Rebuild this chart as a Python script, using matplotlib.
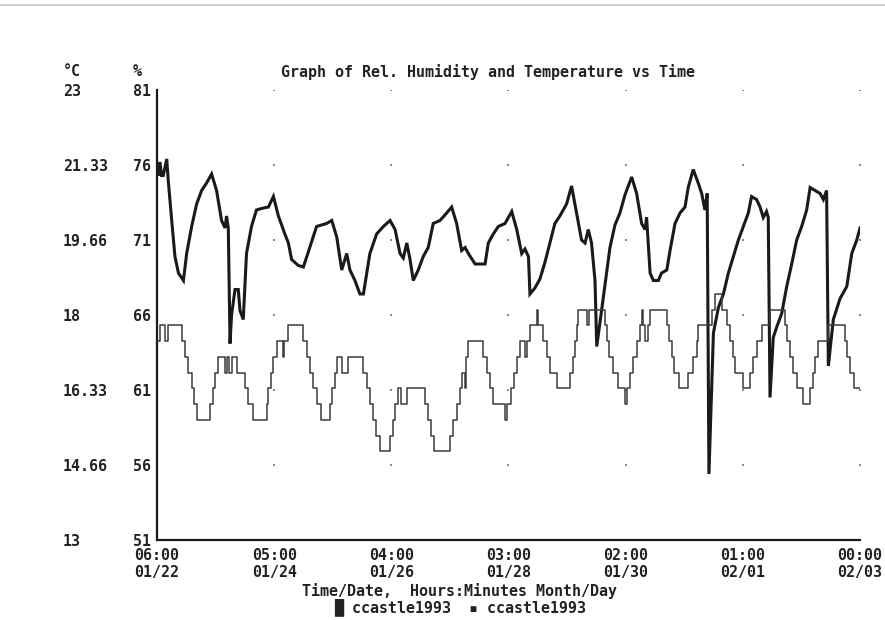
import matplotlib
matplotlib.use("Agg")
import matplotlib.pyplot as plt
from matplotlib.lines import Line2D
import numpy as np

# time axis: hours since 06:00 01/22, one tick every 47 h
tick_hours = [0, 47, 94, 141, 188, 235, 282]
tick_labels = ["06:00\n01/22", "05:00\n01/24", "04:00\n01/26", "03:00\n01/28",
               "02:00\n01/30", "01:00\n02/01", "00:00\n02/03"]

rh_ticks = [51, 56, 61, 66, 71, 76, 81]
temp_ticks = [13, 14.66, 16.33, 18, 19.66, 21.33, 23]
temp_tick_labels = ["13", "14.66", "16.33", "18", "19.66", "21.33", "23"]

# relative humidity (%) - thick trace
rh_hours = [0.0, 0.5, 1.2, 1.8, 2.5, 3.9, 4.5, 5.9, 7.2, 8.6, 10.6, 11.9, 13.9, 15.9,
            17.9, 19.9, 21.9, 23.9, 25.9, 27.3, 27.9, 28.6, 29.3, 29.9, 31.3, 32.6,
            33.3, 34.6, 35.9, 37.9, 39.9, 41.9, 44.7, 46.7, 48.7, 51.3, 52.7, 54.0,
            56.7, 58.7, 60.7, 64.0, 68.0, 70.1, 72.1, 74.1, 76.1, 77.4, 79.4, 81.4,
            82.8, 85.4, 88.1, 90.8, 93.5, 95.5, 97.5, 98.8, 100.2, 101.5, 102.8,
            104.8, 106.8, 108.8, 110.8, 113.5, 116.2, 118.2, 120.2, 122.2, 123.6,
            124.9, 127.6, 131.6, 132.9, 134.9, 136.9, 139.6, 142.3, 144.3, 146.3,
            147.6, 149.0, 149.6, 151.6, 153.6, 155.6, 157.6, 159.6, 161.6, 164.3,
            166.3, 168.3, 170.3, 171.7, 173.0, 174.3, 175.7, 176.4, 177.7, 179.7,
            181.7, 183.7, 185.7, 187.7, 190.4, 192.4, 194.4, 195.8, 196.4, 197.8,
            199.1, 201.1, 202.4, 204.5, 205.8, 207.8, 209.8, 211.8, 213.1, 215.1,
            217.1, 218.5, 219.8, 220.7, 221.4, 223.2, 225.2, 227.2, 229.2, 231.2,
            233.2, 235.2, 237.2, 238.5, 240.5, 241.9, 243.2, 244.5, 245.2, 245.9,
            247.2, 248.6, 250.6, 252.6, 254.6, 256.6, 258.6, 260.6, 262.0, 264.0,
            266.0, 267.3, 268.6, 269.3, 271.3, 274.0, 276.7, 278.7, 280.7, 282.0]
rh_values = [76.1, 75.3, 76.2, 75.3, 75.3, 76.4, 75.0, 72.3, 69.9, 68.8, 68.3, 70.1, 71.9, 73.4,
             74.3, 74.8, 75.4, 74.3, 72.3, 71.8, 72.6, 71.8, 64.1, 66.0, 67.7, 67.7,
             66.3, 65.7, 70.1, 71.9, 73.0, 73.1, 73.2, 73.9, 72.6, 71.4, 70.8, 69.7,
             69.3, 69.2, 70.2, 71.9, 72.1, 72.3, 71.2, 69.0, 70.1, 69.0, 68.3, 67.4,
             67.4, 70.1, 71.4, 71.9, 72.3, 71.7, 70.1, 69.8, 70.8, 69.7, 68.3,
             69.0, 69.9, 70.5, 72.1, 72.3, 72.8, 73.2, 72.1, 70.3, 70.5,
             70.1, 69.4, 69.4, 70.8, 71.4, 71.9, 72.1, 72.9, 71.7, 70.1,
             70.4, 69.9, 67.4, 67.8, 68.4, 69.5, 70.8, 72.1, 72.6, 73.4,
             74.6, 72.8, 71.0, 70.8, 71.7, 70.8, 68.3, 63.9, 65.5, 68.0,
             70.5, 72.0, 72.8, 74.0, 75.2, 74.1, 72.1, 71.7, 72.5, 68.8,
             68.3, 68.3, 68.8, 69.0, 70.3, 72.1, 72.8, 73.2, 74.5, 75.7,
             74.8, 74.1, 73.0, 74.1, 55.4, 64.8, 66.5, 67.4, 68.8, 69.9,
             71.0, 71.9, 72.8, 73.9, 73.7, 73.2, 72.5, 72.9, 72.5, 60.5,
             64.5, 65.2, 66.1, 67.9, 69.4, 71.0, 71.9, 73.0, 74.5, 74.3,
             74.1, 73.7, 74.3, 62.6, 65.7, 67.1, 67.9, 70.1, 71.0, 71.8]

# temperature (deg C) - thin stepped trace, value holds until next time
temp_hours = [0.0, 1.2, 3.2, 4.5, 9.9, 11.2, 12.6, 13.9, 15.0, 16.0, 21.3, 22.6, 23.3,
              24.6, 27.3, 28.0, 29.0, 30.0, 32.0, 35.3, 36.6, 38.6, 44.0, 44.6, 45.7,
              46.6, 48.0, 50.5, 51.0, 52.7, 58.7, 60.0, 61.4, 62.7, 64.1, 65.7, 69.4,
              70.1, 71.4, 72.1, 74.1, 76.7, 82.8, 84.1, 85.4, 86.7, 88.0, 89.5, 93.5,
              94.5, 95.5, 96.5, 97.8, 100.1, 107.5, 108.8, 110.0, 111.2, 117.5, 118.9,
              120.2, 121.5, 122.2, 123.5, 124.0, 124.9, 130.9, 132.2, 133.6, 134.9,
              139.6, 140.3, 142.2, 143.3, 144.5, 145.6, 147.5, 148.3, 149.6, 152.3,
              152.8, 154.9, 156.3, 157.6, 160.5, 165.7, 167.0, 167.7, 168.3, 169.0,
              172.3, 173.2, 179.7, 180.4, 181.5, 183.0, 185.0, 187.7, 188.4, 189.7,
              191.1, 192.4, 193.7, 194.4, 194.9, 195.8, 197.1, 197.8, 204.4, 205.5,
              206.5, 207.5, 209.5, 213.1, 215.1, 216.5, 217.1, 222.5, 223.8, 226.5,
              228.5, 230.0, 231.0, 232.0, 235.2, 237.9, 239.2, 240.6, 242.6, 245.9,
              251.9, 252.6, 253.9, 255.3, 256.6, 259.3, 262.0, 263.3, 264.0, 265.3,
              269.3, 276.0, 276.7, 278.0, 279.4, 282.0]
temp_values = [17.42, 17.77, 17.42, 17.77, 17.42, 17.07, 16.72, 16.37, 16.02, 15.67, 16.02, 16.37, 16.72,
               17.07, 16.72, 17.07, 16.72, 17.07, 16.72, 16.37, 16.02, 15.67, 16.02, 16.37, 16.72,
               17.07, 17.42, 17.07, 17.42, 17.77, 17.42, 17.07, 16.72, 16.37, 16.02, 15.67, 16.02,
               16.37, 16.72, 17.07, 16.72, 17.07, 16.72, 16.37, 16.02, 15.67, 15.32, 14.97, 15.32,
               15.67, 16.02, 16.37, 16.02, 16.37, 16.02, 15.67, 15.32, 14.97, 15.32, 15.67,
               16.02, 16.37, 16.72, 16.37, 17.07, 17.42, 17.07, 16.72, 16.37, 16.02,
               15.67, 16.02, 16.37, 16.72, 17.07, 17.42, 17.07, 17.42, 17.77, 18.12,
               17.77, 17.42, 17.07, 16.72, 16.37, 16.72, 17.07, 17.42, 17.77, 18.12,
               17.77, 18.12, 17.77, 17.42, 17.07, 16.72, 16.37, 16.02, 16.37, 16.72,
               17.07, 17.42, 17.77, 18.12, 17.77, 17.42, 17.77, 18.12, 17.77, 17.42,
               17.07, 16.72, 16.37, 16.72, 17.07, 17.42, 17.77, 18.12, 18.47, 18.12,
               17.77, 17.42, 17.07, 16.72, 16.37, 16.72, 17.07, 17.42, 17.77, 18.12,
               17.77, 17.42, 17.07, 16.72, 16.37, 16.02, 16.37, 16.72, 17.07, 17.42,
               17.77, 17.42, 17.07, 16.72, 16.37, 16.37]

series_name = "ccastle1993"

W, H = 885, 620
ink = "#1a1a1a"
font = dict(family="DejaVu Sans Mono", weight="bold", size=10.8, color="#222222")

fig = plt.figure(figsize=(W / 100, H / 100), dpi=100)
fig.patch.set_facecolor("white")

# faint screenshot border along the top
fig.add_artist(Line2D([0, 1], [1 - 5 / H, 1 - 5 / H], transform=fig.transFigure,
                      color="#c8c8c8", lw=1.2))

ax = fig.add_axes([157 / W, 1 - 540 / H, 703 / W, 450 / H])
ax_t = ax.twinx()

# humidity on the main axis
ax.plot(rh_hours, rh_values, color=ink, lw=2.2, solid_joinstyle="miter", zorder=3)
ax.set_xlim(0, 282)
ax.set_ylim(51, 81)

# temperature on the twin axis, scaled 13..23
ax_t.plot(temp_hours, temp_values, color="#3a3a3a", lw=1.1, drawstyle="steps-post", zorder=2)
ax_t.set_ylim(13, 23)

# dotted grid: only a dot where tick lines would cross
gx, gy = np.meshgrid(tick_hours[1:], rh_ticks[1:])
ax.scatter(gx.ravel(), gy.ravel(), s=2.5, color="#8a8a8a", marker="s", lw=0, zorder=1)

ax.set_xticks(tick_hours)
ax.set_xticklabels(tick_labels, **font, linespacing=1.15)
ax.tick_params(axis="x", length=0, pad=6)

ax.set_yticks(rh_ticks)
ax.set_yticklabels([str(v) for v in rh_ticks], **font)
ax.tick_params(axis="y", length=0, pad=24 * 0.72)
plt.setp(ax.get_yticklabels(), ha="left")

ax_t.yaxis.set_ticks_position("left")
ax_t.set_yticks(temp_ticks)
ax_t.set_yticklabels(temp_tick_labels, **font)
ax_t.tick_params(axis="y", length=0, pad=94 * 0.72)
plt.setp(ax_t.get_yticklabels(), ha="left")

for a in (ax, ax_t):
    a.spines["top"].set_visible(False)
    a.spines["right"].set_visible(False)
ax_t.spines["left"].set_visible(False)
ax_t.spines["bottom"].set_visible(False)
ax.spines["left"].set_linewidth(1.6)
ax.spines["bottom"].set_linewidth(1.6)
ax.spines["left"].set_color(ink)
ax.spines["bottom"].set_color(ink)

# headers and captions
fig.text(63 / W, 1 - 72 / H, "°C", ha="left", va="center", **font)
fig.text(133 / W, 1 - 72 / H, "%", ha="left", va="center", **font)
fig.text(488 / W, 1 - 72 / H, "Graph of Rel. Humidity and Temperature vs Time",
         ha="center", va="center", **font)
fig.text(460 / W, 1 - 591 / H, "Time/Date,  Hours:Minutes Month/Day",
         ha="center", va="center", **font)
fig.text(460 / W, 1 - 607 / H, f"█ {series_name}  ▪ {series_name}",
         ha="center", va="center", **font)

fig.savefig("out.png", dpi=100, facecolor="white")
